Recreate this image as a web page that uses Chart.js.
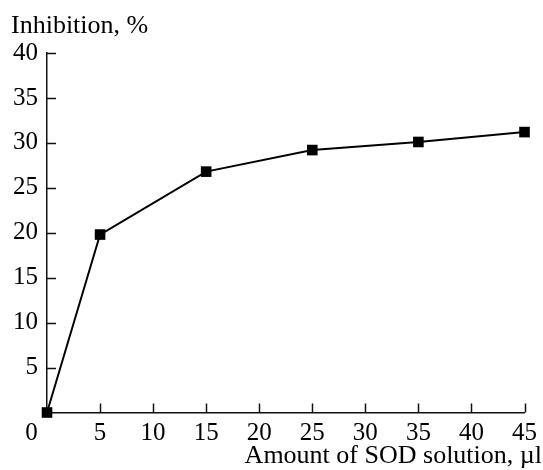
<!DOCTYPE html>
<html>
<head>
<meta charset="utf-8">
<script src="https://cdn.jsdelivr.net/npm/chart.js@4/dist/chart.umd.min.js"></script>
<style>
  html, body { margin: 0; padding: 0; background: #fff; }
  #wrap { width: 543px; height: 470px; position: relative; }
</style>
</head>
<body>
<div id="wrap"><canvas id="c"></canvas></div>
<script>
// Data
const sodAmount = [0, 5, 15, 25, 35, 45];          // µl
const inhibition = [0, 19.8, 26.8, 29.2, 30.1, 31.2]; // %
const xTickValues = [0, 5, 10, 15, 20, 25, 30, 35, 40, 45];
const yTickValues = [5, 10, 15, 20, 25, 30, 35, 40];
const yTitle = 'Inhibition, %';
const xTitle = 'Amount of SOD solution, µl';

const FONT = '"Liberation Serif", "Times New Roman", serif';
const INK = '#000';

const extras = {
  id: 'extras',
  afterDraw(chart) {
    const ctx = chart.ctx;
    const xs = chart.scales.x, ys = chart.scales.y;
    const area = chart.chartArea;
    ctx.save();
    // inward tick marks
    ctx.strokeStyle = '#111';
    ctx.lineWidth = 1.5;
    ctx.beginPath();
    yTickValues.forEach(v => {
      const py = Math.round(ys.getPixelForValue(v)) + 0.5;
      ctx.moveTo(area.left, py);
      ctx.lineTo(area.left + 9, py);
    });
    xTickValues.filter(v => v > 0).forEach(v => {
      const px = Math.round(xs.getPixelForValue(v)) + 0.5;
      ctx.moveTo(px, area.bottom);
      ctx.lineTo(px, area.bottom - 9);
    });
    ctx.stroke();
    // axis titles
    ctx.fillStyle = INK;
    ctx.font = '26px ' + FONT;
    ctx.textBaseline = 'alphabetic';
    ctx.textAlign = 'left';
    ctx.fillText(yTitle, 11, 33);
    ctx.textAlign = 'right';
    ctx.fillText(xTitle, 542, 463);
    ctx.restore();
  }
};

new Chart(document.getElementById('c'), {
  type: 'scatter',
  data: {
    datasets: [{
      data: sodAmount.map((x, i) => ({ x: x, y: inhibition[i] })),
      showLine: true,
      borderColor: INK,
      borderWidth: 2,
      backgroundColor: INK,
      pointStyle: 'rect',
      pointRadius: 7.5,
      pointHoverRadius: 7.5,
      pointBorderWidth: 0,
      clip: false
    }]
  },
  options: {
    responsive: true,
    maintainAspectRatio: false,
    animation: false,
    layout: { padding: { left: 4, right: 6, top: 53, bottom: 15.5 } },
    plugins: { legend: { display: false }, tooltip: { enabled: false } },
    scales: {
      x: {
        type: 'linear',
        min: 0, max: 45,
        afterBuildTicks: (s) => { s.ticks = xTickValues.map(v => ({ value: v })); },
        ticks: {
          color: INK,
          padding: 6,
          maxRotation: 0,
          autoSkip: false,
          font: { family: FONT, size: 25 },
          callback: (v) => v === 0 ? '0     ' : String(v)
        },
        grid: { display: true, drawOnChartArea: false, drawTicks: false },
        border: { display: true, color: '#111', width: 1.5 }
      },
      y: {
        type: 'linear',
        min: 0, max: 40,
        afterBuildTicks: (s) => { s.ticks = [0].concat(yTickValues).map(v => ({ value: v })); },
        ticks: {
          color: INK,
          padding: 9,
          autoSkip: false,
          font: { family: FONT, size: 25 },
          callback: (v) => v === 0 ? '' : String(v)
        },
        grid: { display: true, drawOnChartArea: false, drawTicks: false },
        border: { display: true, color: '#111', width: 1.5 }
      }
    }
  },
  plugins: [extras]
});
</script>
</body>
</html>
